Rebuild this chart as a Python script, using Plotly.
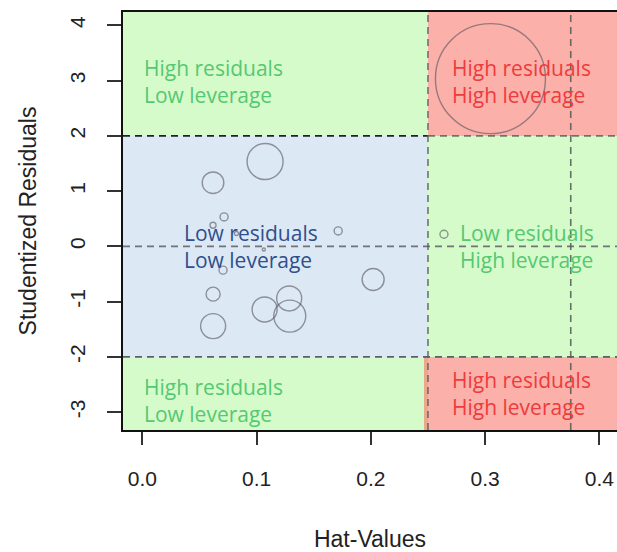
import plotly.graph_objects as go

# Data
hat_values = [0.3047, 0.1074, 0.0618, 0.0715, 0.0618, 0.0823, 0.1063, 0.1714,
              0.2640, 0.0706, 0.2020, 0.0619, 0.0619, 0.1070, 0.1285, 0.1290]
stud_resid = [3.036, 1.535, 1.152, 0.533, 0.383, 0.233, -0.056, 0.280,
              0.220, -0.430, -0.600, -0.864, -1.443, -1.141, -0.942, -1.262]
cooks_d = [0.900, 0.0964, 0.0347, 0.0048, 0.0027, 0.0012, 0.0007, 0.0048,
           0.0048, 0.0048, 0.0360, 0.0146, 0.0465, 0.0465, 0.0465, 0.0760]

x_ticks = [0.0, 0.1, 0.2, 0.3, 0.4]
x_tick_labels = ["0.0", "0.1", "0.2", "0.3", "0.4"]
y_ticks = [-3, -2, -1, 0, 1, 2, 3, 4]
y_tick_labels = ["-3", "-2", "-1", "0", "1", "2", "3", "4"]

hat_cut1 = 0.25
hat_cut2 = 0.375
resid_cut = 2

XR = [-0.017, 0.4155]
YR = [-3.323, 4.242]

GREEN = "#d6fbca"
BLUE = "#dde8f5"
RED = "#fbb0aa"

fig = go.Figure()

fig.add_trace(go.Scatter(
    x=hat_values, y=stud_resid, mode="markers",
    marker=dict(size=cooks_d, sizemode="area", sizeref=0.9 / (2 * 55 ** 2),
                sizemin=1.5, color="rgba(0,0,0,0)",
                line=dict(color="rgba(85,85,95,0.85)", width=1.4)),
    hoverinfo="skip", showlegend=False))

shapes = []
def rect(x0, x1, y0, y1, color):
    shapes.append(dict(type="rect", xref="x", yref="y", x0=x0, x1=x1, y0=y0, y1=y1,
                       fillcolor=color, line=dict(width=0), layer="below"))

rect(XR[0], hat_cut1, resid_cut, YR[1], GREEN)
rect(hat_cut1, XR[1], resid_cut, YR[1], RED)
rect(XR[0], hat_cut1, -resid_cut, resid_cut, BLUE)
rect(hat_cut1, XR[1], -resid_cut, resid_cut, GREEN)
rect(XR[0], hat_cut1, YR[0], -resid_cut, GREEN)
rect(0.2465, XR[1], YR[0], -resid_cut, RED)
rect(0.2465, hat_cut1, YR[0], -resid_cut, "#e9a98a")

dash = "7px,5px"
def hline(y, x0, x1, color):
    shapes.append(dict(type="line", xref="x", yref="y", x0=x0, x1=x1, y0=y, y1=y,
                       line=dict(color=color, width=1.6, dash=dash), layer="below"))
def vline(x, color):
    shapes.append(dict(type="line", xref="x", yref="y", x0=x, x1=x, y0=YR[0], y1=YR[1],
                       line=dict(color=color, width=1.6, dash=dash), layer="below"))

hline(resid_cut, XR[0], hat_cut1, "#222222")
hline(resid_cut, hat_cut1, XR[1], "rgba(90,100,90,0.85)")
hline(0, XR[0], XR[1], "rgba(90,95,105,0.85)")
hline(-resid_cut, XR[0], XR[1], "rgba(70,70,80,0.85)")
vline(hat_cut1, "rgba(90,95,95,0.85)")
vline(hat_cut2, "rgba(80,90,85,0.85)")

TXT_FONT = "Open Sans"
def label(x, y, text, color):
    return dict(x=x, y=y, xref="x", yref="y", text=text, showarrow=False,
                xanchor="left", yanchor="middle", align="left",
                font=dict(family=TXT_FONT, size=21, color=color))

GT = "#55c872"
RT = "#ee3b3b"
BT = "#2f4f8e"
annotations = [
    label(-0.0005, 2.99, "High residuals<br>Low leverage", GT),
    label(0.269, 2.99, "High residuals<br>High leverage", RT),
    label(0.035, 0.006, "Low residuals<br>Low leverage", BT),
    label(0.276, 0.006, "Low residuals<br>High leverage", GT),
    label(-0.0005, -2.78, "High residuals<br>Low leverage", GT),
    label(0.269, -2.66, "High residuals<br>High leverage", RT),
]

AX_FONT = dict(family="Liberation Sans, Arial", size=21, color="#222222")

fig.update_layout(
    width=617, height=552,
    margin=dict(l=123, r=0, t=12, b=122),
    paper_bgcolor="white", plot_bgcolor="white",
    shapes=shapes, annotations=annotations,
    xaxis=dict(range=XR, tickvals=x_ticks, ticktext=x_tick_labels, automargin=False,
               showgrid=False, zeroline=False, showline=True, mirror=True,
               linecolor="#111111", linewidth=1.5,
               ticks="outside", ticklen=13, tickwidth=1.5, tickcolor="#333333",
               tickfont=AX_FONT, ticklabelstandoff=16,
               title=dict(text="Hat-Values", font=dict(family="Liberation Sans, Arial",
                          size=23, color="#222222"), standoff=43)),
    yaxis=dict(range=YR, tickvals=y_ticks, ticktext=y_tick_labels, automargin=False,
               showgrid=False, zeroline=False, showline=True, mirror=False,
               linecolor="#111111", linewidth=1.5,
               ticks="outside", ticklen=14, tickwidth=1.5, tickcolor="#333333",
               tickfont=AX_FONT, tickangle=-90, ticklabelstandoff=14,
               title=dict(text="Studentized Residuals", font=dict(family="Liberation Sans, Arial",
                          size=23, color="#222222"), standoff=23)),
)

fig.write_html("out.html", config={"displayModeBar": False},
               post_script="document.body.style.margin='0';document.body.style.overflow='hidden';")
